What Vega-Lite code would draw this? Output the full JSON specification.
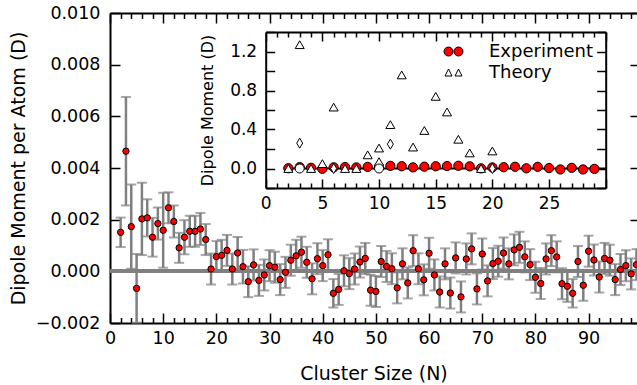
{
  "$schema": "https://vega.github.io/schema/vega-lite/v6.json",
  "width": 527,
  "height": 310,
  "autosize": {"type": "none"},
  "padding": {"left": 110, "top": 13, "right": 0, "bottom": 62},
  "background": "white",
  "config": {
    "view": {"stroke": null},
    "font": "DejaVu Sans",
    "axis": {
      "grid": false,
      "domainColor": "black",
      "domainWidth": 2,
      "tickColor": "black",
      "tickWidth": 1.5,
      "labelColor": "black",
      "titleColor": "black",
      "titleFontWeight": "normal",
      "labelFont": "DejaVu Sans",
      "titleFont": "DejaVu Sans",
      "labelOverlap": false,
      "labelFlush": false
    }
  },
  "datasets": {
    "main": [
      {"N": 2, "v": 0.00151, "e": 0.00057},
      {"N": 3, "v": 0.00465, "e": 0.0021},
      {"N": 4, "v": 0.00173, "e": 0.00163},
      {"N": 5, "v": -0.00066, "e": 0.00133},
      {"N": 6, "v": 0.00203, "e": 0.0014},
      {"N": 7, "v": 0.00207, "e": 0.00072},
      {"N": 8, "v": 0.00132, "e": 0.00075},
      {"N": 9, "v": 0.00185, "e": 0.00062},
      {"N": 10, "v": 0.00159, "e": 0.00145},
      {"N": 11, "v": 0.00246, "e": 0.0006},
      {"N": 12, "v": 0.00193, "e": 0.00062},
      {"N": 13, "v": 0.00091, "e": 0.00058},
      {"N": 14, "v": 0.00132, "e": 0.00066},
      {"N": 15, "v": 0.00155, "e": 0.0006},
      {"N": 16, "v": 0.00155, "e": 0.0006},
      {"N": 17, "v": 0.00164, "e": 0.00062},
      {"N": 18, "v": 0.00123, "e": 0.0006},
      {"N": 19, "v": 0.00009, "e": 0.0006},
      {"N": 20, "v": 0.00057, "e": 0.0006},
      {"N": 21, "v": 0.00062, "e": 0.0006},
      {"N": 22, "v": 0.00081, "e": 0.0006},
      {"N": 23, "v": 0.00009, "e": 0.0006},
      {"N": 24, "v": 0.00071, "e": 0.00062},
      {"N": 25, "v": 0.00018, "e": 0.00065},
      {"N": 26, "v": -0.0004, "e": 0.0006},
      {"N": 27, "v": 0.00025, "e": 0.0006},
      {"N": 28, "v": -0.00035, "e": 0.0006},
      {"N": 29, "v": -0.00014, "e": 0.0006},
      {"N": 30, "v": 0.00022, "e": 0.0006},
      {"N": 31, "v": 0.00016, "e": 0.0006},
      {"N": 32, "v": -0.00032, "e": 0.0006},
      {"N": 33, "v": -0.00004, "e": 0.0006},
      {"N": 34, "v": 0.00043, "e": 0.0006},
      {"N": 35, "v": 0.0006, "e": 0.00062},
      {"N": 36, "v": 0.00074, "e": 0.0006},
      {"N": 37, "v": 0.00035, "e": 0.0006},
      {"N": 38, "v": -0.00029, "e": 0.0006},
      {"N": 39, "v": 0.00049, "e": 0.0006},
      {"N": 40, "v": 0.00022, "e": 0.0006},
      {"N": 41, "v": 0.00064, "e": 0.0006},
      {"N": 42, "v": -0.00085, "e": 0.00055},
      {"N": 43, "v": -0.0007, "e": 0.0006},
      {"N": 44, "v": 0.00002, "e": 0.0006},
      {"N": 45, "v": -0.00009, "e": 0.0006},
      {"N": 46, "v": 0.00009, "e": 0.0006},
      {"N": 47, "v": 0.00036, "e": 0.0006},
      {"N": 48, "v": 0.0005, "e": 0.0006},
      {"N": 49, "v": -0.00073, "e": 0.0006},
      {"N": 50, "v": -0.00078, "e": 0.0006},
      {"N": 51, "v": 0.00038, "e": 0.0006},
      {"N": 52, "v": 0.00019, "e": 0.0006},
      {"N": 53, "v": 0.0001, "e": 0.0006},
      {"N": 54, "v": -0.00064, "e": 0.0006},
      {"N": 55, "v": 0.00029, "e": 0.0006},
      {"N": 56, "v": -0.00045, "e": 0.0006},
      {"N": 57, "v": 0.0008, "e": 0.0006},
      {"N": 58, "v": 0.0001, "e": 0.0006},
      {"N": 59, "v": -0.00033, "e": 0.0006},
      {"N": 60, "v": 0.0007, "e": 0.0006},
      {"N": 61, "v": -0.00014, "e": 0.0006},
      {"N": 62, "v": -0.0008, "e": 0.0006},
      {"N": 63, "v": 0.00029, "e": 0.0006},
      {"N": 64, "v": -0.00084, "e": 0.0006},
      {"N": 65, "v": 0.00052, "e": 0.0006},
      {"N": 66, "v": -0.00099, "e": 0.0006},
      {"N": 67, "v": 0.00048, "e": 0.0006},
      {"N": 68, "v": 0.00087, "e": 0.0006},
      {"N": 69, "v": -0.00068, "e": 0.0006},
      {"N": 70, "v": 0.00067, "e": 0.0006},
      {"N": 71, "v": -0.00037, "e": 0.0006},
      {"N": 72, "v": 0.0003, "e": 0.0006},
      {"N": 73, "v": 0.00039, "e": 0.0006},
      {"N": 74, "v": 0.00071, "e": 0.0006},
      {"N": 75, "v": 0.00029, "e": 0.0006},
      {"N": 76, "v": 0.00083, "e": 0.0006},
      {"N": 77, "v": 0.00093, "e": 0.0006},
      {"N": 78, "v": 0.00056, "e": 0.0006},
      {"N": 79, "v": 0.00026, "e": 0.0006},
      {"N": 80, "v": -0.00023, "e": 0.0006},
      {"N": 81, "v": -0.00047, "e": 0.0006},
      {"N": 82, "v": 0.00048, "e": 0.0006},
      {"N": 83, "v": 0.0008, "e": 0.0006},
      {"N": 84, "v": 0.00056, "e": 0.0006},
      {"N": 85, "v": -0.00048, "e": 0.0006},
      {"N": 86, "v": -0.00058, "e": 0.0006},
      {"N": 87, "v": -0.00085, "e": 0.00055},
      {"N": 88, "v": 0.00038, "e": 0.0006},
      {"N": 89, "v": -0.00054, "e": 0.0006},
      {"N": 90, "v": 0.00078, "e": 0.0006},
      {"N": 91, "v": 0.00044, "e": 0.0006},
      {"N": 92, "v": -0.00022, "e": 0.0006},
      {"N": 93, "v": 0.0005, "e": 0.0006},
      {"N": 94, "v": 0.00043, "e": 0.0006},
      {"N": 95, "v": -0.00032, "e": 0.0006},
      {"N": 96, "v": 0.00007, "e": 0.0006},
      {"N": 97, "v": 0.00022, "e": 0.0006},
      {"N": 98, "v": -0.0001, "e": 0.0006},
      {"N": 99, "v": 0.00026, "e": 0.0006}
    ],
    "inset_exp": [
      {"N": 2, "d": 0.003}, {"N": 3, "d": 0.014}, {"N": 4, "d": 0.007}, {"N": 5, "d": -0.0033},
      {"N": 6, "d": 0.012}, {"N": 7, "d": 0.0145}, {"N": 8, "d": 0.0106}, {"N": 9, "d": 0.0167},
      {"N": 10, "d": 0.0159}, {"N": 11, "d": 0.027}, {"N": 12, "d": 0.023}, {"N": 13, "d": 0.0118},
      {"N": 14, "d": 0.0185}, {"N": 15, "d": 0.023}, {"N": 16, "d": 0.025}, {"N": 17, "d": 0.028},
      {"N": 18, "d": 0.022}, {"N": 19, "d": 0.0017}, {"N": 20, "d": 0.011}, {"N": 21, "d": 0.013},
      {"N": 22, "d": 0.018}, {"N": 23, "d": 0.002}, {"N": 24, "d": 0.017}, {"N": 25, "d": 0.0045},
      {"N": 26, "d": -0.01}, {"N": 27, "d": 0.007}, {"N": 28, "d": -0.0098}, {"N": 29, "d": -0.004}
    ],
    "tri": [
      {"N": 2, "d": 0.0}, {"N": 3, "d": 1.27}, {"N": 4, "d": 0.0}, {"N": 5, "d": 0.05},
      {"N": 6, "d": 0.63}, {"N": 7, "d": 0.0}, {"N": 8, "d": 0.0}, {"N": 9, "d": 0.14},
      {"N": 10, "d": 0.21}, {"N": 10, "d": 0.07}, {"N": 11, "d": 0.45}, {"N": 12, "d": 0.96},
      {"N": 13, "d": 0.22}, {"N": 14, "d": 0.39}, {"N": 15, "d": 0.74}, {"N": 16, "d": 0.58},
      {"N": 17, "d": 0.3}, {"N": 18, "d": 0.16}, {"N": 19, "d": 0.0}, {"N": 20, "d": 0.18}
    ],
    "dia": [
      {"N": 3, "d": 0.26}, {"N": 6, "d": 0.0}, {"N": 11, "d": 0.25}, {"N": 20, "d": 0.0}
    ],
    "circ": [
      {"N": 3, "d": 0.0}, {"N": 10, "d": 0.0}
    ],
    "legend": [
      {"series": "Experiment"}, {"series": "Theory"}
    ]
  },
  "layer": [
    {
      "data": {"name": "main"},
      "layer": [
        {
          "mark": {"type": "rule", "color": "#808080", "strokeWidth": 3.5},
          "encoding": {
            "y": {"datum": 0, "type": "quantitative", "scale": {"domain": [-0.002, 0.01], "nice": false, "zero": false}, "axis": null}
          }
        },
        {
          "mark": {"type": "errorbar", "color": "#808080", "ticks": {"size": 10, "thickness": 2, "color": "#808080"}, "rule": {"strokeWidth": 2.5, "color": "#808080"}},
          "encoding": {
            "x": {"field": "N", "type": "quantitative", "scale": {"domain": [0, 99.1], "nice": false}, "axis": null},
            "y": {"field": "v", "type": "quantitative", "scale": {"domain": [-0.002, 0.01], "nice": false, "zero": false}, "axis": null},
            "yError": {"field": "e"}
          }
        },
        {
          "mark": {"type": "point", "filled": true, "fill": "#ff0000", "stroke": "black", "strokeWidth": 1, "size": 40, "opacity": 1},
          "encoding": {
            "x": {
              "field": "N", "type": "quantitative",
              "scale": {"domain": [0, 99.1], "nice": false},
              "axis": {
                "orient": "bottom",
                "values": [0,2,4,6,8,10,12,14,16,18,20,22,24,26,28,30,32,34,36,38,40,42,44,46,48,50,52,54,56,58,60,62,64,66,68,70,72,74,76,78,80,82,84,86,88,90,92,94,96,98],
                "labelExpr": "datum.value % 10 === 0 ? datum.label : ''",
                "tickSize": {"condition": {"test": "datum.value % 10 === 0", "value": -10}, "value": -5.5},
                "labelPadding": 16,
                "labelFontSize": 17.5,
                "title": "Cluster Size (N)",
                "titleFontSize": 19,
                "titlePadding": 13
              }
            },
            "y": {
              "field": "v", "type": "quantitative",
              "scale": {"domain": [-0.002, 0.01], "nice": false, "zero": false},
              "axis": {
                "orient": "left",
                "values": [-0.002, 0, 0.002, 0.004, 0.006, 0.008, 0.01],
                "format": ".3f",
                "tickSize": -10,
                "labelPadding": 20,
                "labelFontSize": 17.5,
                "title": "Dipole Moment per Atom (D)",
                "titleFontSize": 19,
                "titlePadding": 7
              }
            }
          }
        },
        {
          "mark": {"type": "point", "opacity": 0},
          "encoding": {
            "x": {
              "field": "N", "type": "quantitative",
              "scale": {"domain": [0, 99.1], "nice": false},
              "axis": {
                "orient": "top",
                "values": [0,2,4,6,8,10,12,14,16,18,20,22,24,26,28,30,32,34,36,38,40,42,44,46,48,50,52,54,56,58,60,62,64,66,68,70,72,74,76,78,80,82,84,86,88,90,92,94,96,98],
                "labels": false,
                "tickSize": {"condition": {"test": "datum.value % 10 === 0", "value": -10}, "value": -5.5},
                "title": null
              }
            },
            "y": {
              "field": "v", "type": "quantitative",
              "scale": {"domain": [-0.002, 0.01], "nice": false, "zero": false},
              "axis": {
                "orient": "right",
                "values": [-0.002, 0, 0.002, 0.004, 0.006, 0.008, 0.01],
                "domain": false,
                "labels": false,
                "tickSize": -7,
                "title": null
              }
            }
          }
        }
      ],
      "resolve": {"axis": {"x": "independent", "y": "independent"}}
    },
    {
      "layer": [
        {
          "data": {"values": [{}]},
          "mark": {"type": "rule", "color": "black", "strokeWidth": 2},
          "encoding": {
            "x": {"datum": 1.6, "type": "quantitative", "scale": {"domain": [0, 30], "range": [155.7, 495.7], "nice": false}, "axis": null},
            "x2": {"datum": 30},
            "y": {"datum": 0, "type": "quantitative", "scale": {"domain": [-0.2, 1.4], "range": [175, 19], "nice": false, "zero": false}, "axis": null}
          }
        },
        {
          "data": {"name": "inset_exp"},
          "mark": {"type": "point", "filled": true, "fill": "#ff0000", "stroke": "black", "strokeWidth": 1, "size": 86, "opacity": 1},
          "encoding": {
            "x": {
              "field": "N", "type": "quantitative",
              "scale": {"domain": [0, 30], "range": [155.7, 495.7], "nice": false},
              "axis": {
                "orient": "bottom",
                "offset": -135,
                "values": [0,1,2,3,4,5,6,7,8,9,10,11,12,13,14,15,16,17,18,19,20,21,22,23,24,25,26,27,28,29,30],
                "labelExpr": "datum.value % 5 === 0 && datum.value < 30 ? datum.label : ''",
                "tickSize": {"condition": {"test": "datum.value % 5 === 0", "value": -9}, "value": -5},
                "labelPadding": 16,
                "labelFontSize": 17,
                "title": null
              }
            },
            "y": {
              "field": "d", "type": "quantitative",
              "scale": {"domain": [-0.2, 1.4], "range": [175, 19], "nice": false, "zero": false},
              "axis": {
                "orient": "left",
                "offset": -155.7,
                "values": [-0.2, 0, 0.2, 0.4, 0.6, 0.8, 1.0, 1.2, 1.4],
                "format": ".1f",
                "labelExpr": "indexof(['0.0','0.4','0.8','1.2'], datum.label) >= 0 ? datum.label : ''",
                "tickSize": -9,
                "labelPadding": 18,
                "labelFontSize": 17,
                "title": "Dipole Moment (D)",
                "titleFontSize": 16,
                "titlePadding": 14
              }
            }
          }
        },
        {
          "data": {"name": "tri"},
          "mark": {"type": "point", "shape": "triangle-up", "filled": true, "fill": "white", "stroke": "black", "strokeWidth": 1, "size": 81, "opacity": 1},
          "encoding": {
            "x": {
              "field": "N", "type": "quantitative",
              "scale": {"domain": [0, 30], "range": [155.7, 495.7], "nice": false},
              "axis": {
                "orient": "top",
                "offset": -19,
                "values": [0,1,2,3,4,5,6,7,8,9,10,11,12,13,14,15,16,17,18,19,20,21,22,23,24,25,26,27,28,29,30],
                "labels": false,
                "tickSize": {"condition": {"test": "datum.value % 5 === 0", "value": -9}, "value": -5},
                "title": null
              }
            },
            "y": {
              "field": "d", "type": "quantitative",
              "scale": {"domain": [-0.2, 1.4], "range": [175, 19], "nice": false, "zero": false},
              "axis": {
                "orient": "right",
                "offset": -31.3,
                "values": [-0.2, 0, 0.2, 0.4, 0.6, 0.8, 1.0, 1.2, 1.4],
                "labels": false,
                "tickSize": -9,
                "title": null
              }
            }
          }
        },
        {
          "data": {"name": "dia"},
          "mark": {"type": "point", "shape": "M0,-1L0.6,0L0,1L-0.6,0Z", "filled": true, "fill": "white", "stroke": "black", "strokeWidth": 1, "size": 100, "opacity": 1},
          "encoding": {
            "x": {"field": "N", "type": "quantitative", "scale": {"domain": [0, 30], "range": [155.7, 495.7], "nice": false}, "axis": null},
            "y": {"field": "d", "type": "quantitative", "scale": {"domain": [-0.2, 1.4], "range": [175, 19], "nice": false, "zero": false}, "axis": null}
          }
        },
        {
          "data": {"name": "circ"},
          "mark": {"type": "point", "shape": "circle", "filled": true, "fill": "white", "stroke": "black", "strokeWidth": 1, "size": 81, "opacity": 1},
          "encoding": {
            "x": {"field": "N", "type": "quantitative", "scale": {"domain": [0, 30], "range": [155.7, 495.7], "nice": false}, "axis": null},
            "y": {"field": "d", "type": "quantitative", "scale": {"domain": [-0.2, 1.4], "range": [175, 19], "nice": false, "zero": false}, "axis": null}
          }
        }
      ],
      "resolve": {"axis": {"x": "independent", "y": "independent"}}
    },
    {
      "data": {"name": "legend"},
      "mark": {"type": "point", "filled": true, "opacity": 0},
      "encoding": {
        "fill": {
          "field": "series", "type": "nominal",
          "scale": {"domain": ["Experiment", "Theory"], "range": ["#ff0000", "white"]},
          "legend": {"title": null, "orient": "none", "legendX": 333, "legendY": 28, "symbolSize": 400, "symbolStrokeWidth": 1, "symbolOpacity": 1, "labelFontSize": 18, "labelOffset": 25, "rowPadding": 1, "padding": 0, "labelFont": "DejaVu Sans", "labelColor": "black"}
        },
        "stroke": {
          "field": "series", "type": "nominal",
          "scale": {"domain": ["Experiment", "Theory"], "range": ["black", "black"]},
          "legend": {"title": null, "orient": "none", "legendX": 333, "legendY": 28, "symbolSize": 400, "symbolStrokeWidth": 1, "symbolOpacity": 1, "labelFontSize": 18, "labelOffset": 25, "rowPadding": 1, "padding": 0, "labelFont": "DejaVu Sans", "labelColor": "black"}
        },
        "shape": {
          "field": "series", "type": "nominal",
          "scale": {"domain": ["Experiment", "Theory"], "range": ["M-0.95,0A0.45,0.45 0 1,0 -0.05,0A0.45,0.45 0 1,0 -0.95,0ZM0.05,0A0.45,0.45 0 1,0 0.95,0A0.45,0.45 0 1,0 0.05,0Z", "M-0.85,0.35L-0.5,-0.35L-0.15,0.35ZM0.15,0.35L0.5,-0.35L0.85,0.35Z"]},
          "legend": {"title": null, "orient": "none", "legendX": 333, "legendY": 28, "symbolSize": 400, "symbolStrokeWidth": 1, "symbolOpacity": 1, "labelFontSize": 18, "labelOffset": 25, "rowPadding": 1, "padding": 0, "labelFont": "DejaVu Sans", "labelColor": "black"}
        }
      }
    }
  ],
  "resolve": {"scale": {"x": "independent", "y": "independent"}}
}
